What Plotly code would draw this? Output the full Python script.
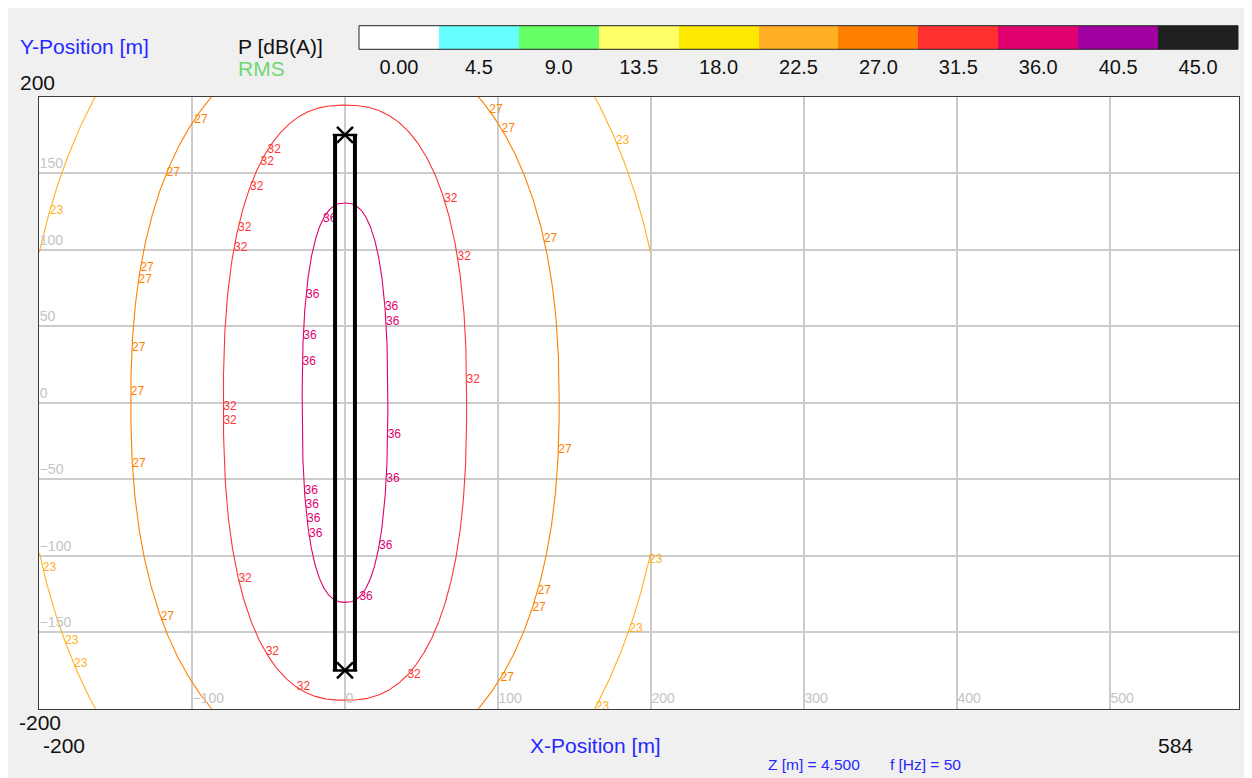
import numpy as np
import plotly.graph_objects as go

# ---------------- data ----------------
# contour levels (dB(A)) and the shape of each iso-line (superellipse)
contour_levels = [23, 27, 32, 36]
contour_colors = ["#ffb020", "#ff8000", "#ff3535", "#e0006e"]
contour_half_width = [210.0, 140.0, 79.5, 28.0]     # m, at y = 0
contour_half_height = [318.0, 239.0, 194.5, 130.5]  # m, at x = 0
contour_exponent = [2.0, 2.3, 2.45, 2.5]
calc_x_limit = 200.0  # computed area ends at x = 200 m

# positions (y, m) of the contour labels, left and right of the line
label_y_left = {
    23: [125.5, -108, -156, -171],
    27: [185, 150, 88, 80, 36, 7, -40, -140],
    32: [165, 157, 141, 114, 101, -2.6, -12, -115, -163, -186],
    36: [120, 70.6, 43.8, 26.8, -58, -67, -76, -86],
}
label_y_right = {
    23: [171, -102.6, -148, -198.7],
    27: [191, 179, 107, -31, -123, -134, -180],
    32: [133, 95, 15, -178],
    36: [62.7, 53, -21, -50, -93.5, -127],
}

# overhead line (conductor pair) and its end towers
conductor_x = [-6.5, 6.5]
line_y_ends = [-175.0, 175.0]
tower_x = [0.0, 0.0]

# colour scale
scale_values = [0.0, 4.5, 9.0, 13.5, 18.0, 22.5, 27.0, 31.5, 36.0, 40.5, 45.0]
scale_labels = ["0.00", "4.5", "9.0", "13.5", "18.0", "22.5", "27.0", "31.5", "36.0", "40.5", "45.0"]
scale_colors = ["#ffffff", "#66ffff", "#66ff66", "#ffff66", "#ffe800", "#ffb024",
                "#ff8000", "#ff3030", "#e0006e", "#a000a0", "#202020"]

x_range = [-200, 584]
y_range = [-200, 200]
x_ticks = [-100, 0, 100, 200, 300, 400, 500]
y_ticks = [-150, -100, -50, 0, 50, 100, 150]

# ---------------- layout helpers ----------------
W, H = 1244, 770
OFF = 8  # page body margin


def fx(px):
    return (px - OFF) / W


def fy(py):
    return 1 - (py - OFF) / H


FONT = "Liberation Sans, Arial, sans-serif"

fig = go.Figure()


def iso_line(a, b, n):
    t = np.linspace(0, 2 * np.pi, 1441)
    c, s = np.cos(t), np.sin(t)
    x = a * np.sign(c) * np.abs(c) ** (2.0 / n)
    y = b * np.sign(s) * np.abs(s) ** (2.0 / n)
    xs, ys = [], []
    for xi, yi in zip(x, y):
        if abs(xi) > calc_x_limit:
            if xs and xs[-1] is not None:
                xs.append(None)
                ys.append(None)
            continue
        xs.append(float(xi))
        ys.append(float(yi))
    return xs, ys


def iso_x(a, b, n, yv, side):
    r = 1 - abs(yv / b) ** n
    r = max(r, 0.0)
    return side * a * r ** (1.0 / n)


for lev, col, a, b, n in zip(contour_levels, contour_colors, contour_half_width,
                             contour_half_height, contour_exponent):
    xs, ys = iso_line(a, b, n)
    fig.add_trace(go.Scatter(x=xs, y=ys, mode="lines", line=dict(color=col, width=1.1),
                             hoverinfo="skip", showlegend=False, xaxis="x", yaxis="y"))
    lx, ly = [], []
    for yv in label_y_left[lev]:
        lx.append(iso_x(a, b, n, yv, -1))
        ly.append(yv)
    for yv in label_y_right[lev]:
        lx.append(iso_x(a, b, n, yv, 1))
        ly.append(yv)
    fig.add_trace(go.Scatter(x=lx, y=ly, mode="text", text=[str(lev)] * len(lx),
                             textposition="middle right",
                             textfont=dict(family=FONT, size=12, color=col),
                             hoverinfo="skip", showlegend=False, xaxis="x", yaxis="y"))

# conductors
for cx in conductor_x:
    fig.add_trace(go.Scatter(x=[cx, cx], y=line_y_ends, mode="lines",
                             line=dict(color="black", width=4), hoverinfo="skip",
                             showlegend=False))
for ye in line_y_ends:
    fig.add_trace(go.Scatter(x=[conductor_x[0] - 1.5, conductor_x[1] + 1.5], y=[ye, ye],
                             mode="lines", line=dict(color="black", width=2.5),
                             hoverinfo="skip", showlegend=False))
fig.add_trace(go.Scatter(x=tower_x, y=line_y_ends, mode="markers",
                         marker=dict(symbol="x-thin-open", size=16,
                                     line=dict(color="black", width=2.5), color="black"),
                         hoverinfo="skip", showlegend=False))

# colour scale bar
n_sc = len(scale_values)
cs = [[i / (n_sc - 1), c] for i, c in enumerate(scale_colors)]
fig.add_trace(go.Heatmap(x=scale_values, y=[0], z=[list(range(n_sc))], colorscale=cs,
                         zmin=0, zmax=n_sc - 1, showscale=False, hoverinfo="skip",
                         xaxis="x2", yaxis="y2"))

grid_col = "#cccccc"
fig.update_layout(
    width=W, height=H,
    margin=dict(l=0, r=0, t=0, b=0),
    paper_bgcolor="#f0f0f0", plot_bgcolor="white",
    showlegend=False,
    xaxis=dict(domain=[fx(39), fx(1238.5)], range=x_range, tickvals=x_ticks,
               showgrid=True, gridcolor=grid_col, gridwidth=1.5, zeroline=False,
               ticks="", ticklabelposition="inside right",
               tickfont=dict(family=FONT, size=14, color="#c4c4c4"),
               showline=True, linecolor="#3c3c3c", linewidth=1, mirror=True,
               anchor="y"),
    yaxis=dict(domain=[fy(708.7), fy(96.7)], range=y_range, tickvals=y_ticks,
               showgrid=True, gridcolor=grid_col, gridwidth=1.5, zeroline=False,
               ticks="", ticklabelposition="inside top",
               tickfont=dict(family=FONT, size=14, color="#c4c4c4"),
               showline=True, linecolor="#3c3c3c", linewidth=1, mirror=True,
               anchor="x"),
    xaxis2=dict(domain=[fx(359), fx(1238)], range=[-2.25, 47.25], anchor="y2",
                tickvals=scale_values, ticktext=scale_labels, ticks="",
                ticklabelstandoff=4,
                showgrid=False, zeroline=False,
                tickfont=dict(family=FONT, size=20, color="#111111")),
    yaxis2=dict(domain=[fy(49.3), fy(25.7)], range=[-0.5, 0.5], anchor="x2",
                showticklabels=False, showgrid=False, zeroline=False, ticks=""),
)

fig.add_shape(type="rect", xref="x2 domain", yref="y2 domain", x0=0, x1=1, y0=0, y1=1,
              line=dict(color="#222222", width=1))


def note(text, px, py, size=21, color="#111111", xanchor="left"):
    fig.add_annotation(text=text, x=fx(px), y=fy(py), xref="paper", yref="paper",
                       showarrow=False, xanchor=xanchor, yanchor="middle",
                       font=dict(family=FONT, size=size, color=color))


note("Y-Position [m]", 18, 47, color="#2828ff")
note("P [dB(A)]", 236, 46)
note("RMS", 236, 68, color="#70d870")
note(str(y_range[1]), 18, 82)
note(str(y_range[0]), 17, 722.5)
note(str(x_range[0]), 41, 745)
note("X-Position [m]", 595, 745, color="#2828ff", xanchor="center")
note(str(x_range[1]), 1156, 745)
note("Z [m] = 4.500&nbsp;&nbsp;&nbsp;&nbsp;&nbsp;&nbsp;&nbsp;f [Hz] = 50", 766, 764, size=15.5,
     color="#2828ff")

fig.write_html("out.html")
